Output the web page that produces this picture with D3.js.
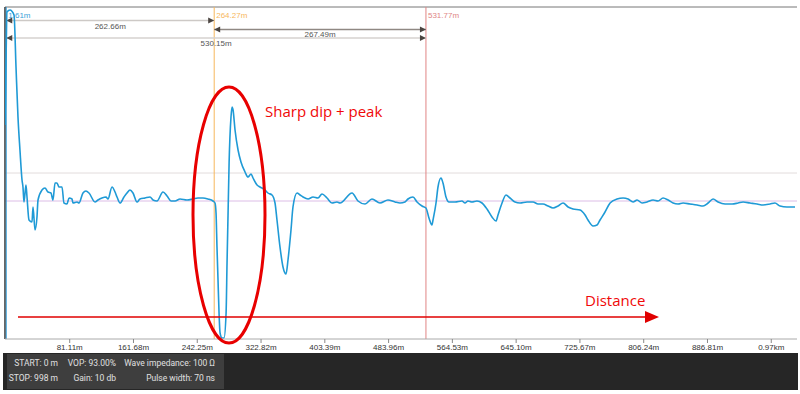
<!DOCTYPE html>
<html>
<head>
<meta charset="utf-8">
<script src="https://cdn.jsdelivr.net/npm/d3@7"></script>
<style>
  body { margin: 0; background: #fff; }
  svg { display: block; font-family: "Liberation Sans", Arial, sans-serif; }
</style>
</head>
<body>
<div id="chart"></div>
<script>
// TDR trace: distance (m) and reflected amplitude (arbitrary units, 0 = baseline)
var distances = [0, 1.3, 2.5, 6.3, 11.4, 13.9, 16.4, 18.9, 21.5, 22.7, 24.0, 26.5, 27.8, 30.3, 34.1, 35.4, 37.9, 40.4, 41.7,
  46.7, 50.5, 54.3, 58.1, 60.6, 63.2, 65.7, 68.2, 72.0, 74.5, 78.3, 80.9, 84.6, 85.9, 91.0, 93.5, 98.5, 102.3, 106.1,
  113.7, 117.5, 122.5, 127.6, 130.1, 135.2, 139.0, 141.5, 145.3, 150.3, 154.1, 157.9, 161.7, 166.8, 170.5, 176.9,
  183.2, 187.0, 192.0, 199.6, 204.7, 209.7, 214.8, 221.1, 229.9, 237.5, 243.8, 250.1, 256.4, 262.8, 265.3, 266.6,
  267.8, 269.1, 270.4, 271.7, 274.2, 276.7, 279.3, 280.5, 281.8, 283.1, 285.5, 286.8, 288.1, 290.6, 294.4, 298.1,
  303.2, 307.0, 310.8, 313.3, 318.4, 322.1, 328.5, 332.2, 337.3, 341.1, 343.6, 347.4, 351.2, 355.0, 357.5, 361.3,
  363.8, 368.9, 372.7, 376.5, 382.8, 389.1, 395.4, 400.5, 406.8, 413.1, 419.4, 423.2, 438.4, 445.9, 454.8, 463.6,
  473.7, 483.8, 492.7, 499.0, 505.3, 509.1, 515.4, 520.5, 526.8, 531.8, 535.6, 539.4, 540.7, 544.5, 547.0, 550.8,
  553.3, 557.1, 560.9, 568.5, 577.3, 581.1, 584.9, 589.9, 596.2, 602.6, 608.9, 615.2, 620.3, 622.8, 627.9, 632.9,
  638.0, 644.3, 650.6, 659.5, 667.1, 673.4, 679.7, 686.0, 692.3, 698.7, 705.0, 711.3, 717.6, 726.5, 732.8, 736.5,
  742.9, 747.9, 751.7, 758.0, 764.4, 773.2, 780.8, 787.1, 793.4, 798.5, 804.8, 811.1, 818.7, 825.0, 831.3, 837.7,
  844.0, 850.3, 856.6, 865.5, 874.3, 881.9, 888.2, 894.5, 900.8, 909.7, 918.5, 926.1, 932.4, 941.2, 950.1, 957.6,
  966.4, 972.7, 979.1, 987.9, 998.0];
var amplitudes = [76, 141, 189, 191, 186, 134, 84, 51, 21, 14, -1, 16, 4, -19, -21, -6, -29, -16, 1,
  11, 13, 9, 8, 1, 18, 18, 14, 14, -2, -3, 3, 2, -2, -1, -2, 8, 10, 8,
  -1, 1, 3, 4, 2, 14, 9, 4, -2, 4, 8, 11, 8, -1, 2, 3,
  4, 1, 0, 9, 5, 0, 0, 2, 1, 2, 3, 3, 2, 0, -2, -12,
  -46, -79, -112, -132, -137, -137, -112, -62, -12, 38, 84, 94, 91, 71, 51, 39,
  29, 24, 27, 23, 16, 14, 11, 8, 6, -2, -19, -46, -66, -73, -59, -29,
  -6, 8, 6, 4, 2, 4, 3, 7, 3, -2, -1, -2, 8, 0, -3, 2,
  -2, 1, -1, -2, -1, 2, 4, -1, -5, -7, -17, -24, -19, -2, 14, 23,
  18, 4, -1, -1, 0, -2, 0, -1, 0, -2, -8, -16, -20, -14, -2, 6,
  3, -1, -2, -1, -1, -3, -3, -5, -7, -5, -2, -6, -8, -9, -14, -19,
  -25, -24, -19, -11, -2, 2, 3, 2, -1, 1, -2, -1, 1, 0, 3, 1,
  -2, -3, -2, -3, -4, -5, -2, 2, -1, -3, -3, -2, -1, -2, -3, -4,
  -3, -2, -5, -6, -6];

var tickValues = [81.11, 161.68, 242.25, 322.82, 403.39, 483.96, 564.53, 645.10, 725.67, 806.24, 886.81, 967.38];
var tickLabels = ["81.11m", "161.68m", "242.25m", "322.82m", "403.39m", "483.96m", "564.53m", "645.10m",
  "725.67m", "806.24m", "886.81m", "0.97km"];

var cursorPos = [1.61, 264.27, 531.77];
var cursorLabels = ["1.61m", "264.27m", "531.77m"];
var cursorColors = ["#3a9fd8", "#f7b75c", "#e08585"];

// measurement spans: from, to, label
var spanFrom = [1.61, 264.27, 1.61];
var spanTo = [264.27, 531.77, 531.77];
var spanLabels = ["262.66m", "267.49m", "530.15m"];

var infoRow1 = ["START: 0 m", "VOP: 93.00%", "Wave impedance: 100 Ω"];
var infoRow2 = ["STOP: 998 m", "Gain: 10 db", "Pulse width: 70 ns"];

var width = 800, height = 394;
// note: "top" is taken by window.top, so use plot* names
var plotLeft = 5, plotRight = 795, plotTop = 7, plotBottom = 339;

var svg = d3.select("#chart").append("svg")
  .attr("width", width)
  .attr("height", height);

var x = d3.scaleLinear().domain([0, 998]).range([plotLeft, plotRight]);
var y = d3.scaleLinear().domain([-138, 194]).range([plotBottom, plotTop]);

svg.append("defs").append("clipPath").attr("id", "plot")
  .append("rect").attr("x", plotLeft).attr("y", plotTop)
  .attr("width", 797 - plotLeft).attr("height", plotBottom - plotTop);

// reference lines
svg.append("line")
  .attr("x1", plotLeft).attr("x2", 797).attr("y1", y(28)).attr("y2", y(28))
  .attr("stroke", "#e2dcdc").attr("stroke-width", 1);
svg.append("line")
  .attr("x1", plotLeft).attr("x2", 797).attr("y1", y(0)).attr("y2", y(0))
  .attr("stroke", "#dcbde6").attr("stroke-width", 1);

// frame
svg.append("line").attr("x1", plotLeft).attr("x2", 797).attr("y1", plotTop).attr("y2", plotTop)
  .attr("stroke", "#777").attr("stroke-width", 1);
svg.append("line").attr("x1", plotLeft).attr("x2", plotLeft).attr("y1", plotTop).attr("y2", plotBottom)
  .attr("stroke", "#333").attr("stroke-width", 1.5);

// cursors
svg.selectAll("line.cursor")
  .data(cursorPos)
  .enter().append("line")
    .attr("class", "cursor")
    .attr("x1", function(d) { return x(d); })
    .attr("x2", function(d) { return x(d); })
    .attr("y1", plotTop).attr("y2", plotBottom)
    .attr("stroke", function(d, i) { return cursorColors[i]; })
    .attr("stroke-width", 1);

svg.selectAll("text.cursor")
  .data(cursorPos)
  .enter().append("text")
    .attr("class", "cursor")
    .attr("x", function(d) { return x(d) + 2; })
    .attr("y", 18)
    .attr("font-size", 8)
    .attr("fill", function(d, i) { return cursorColors[i]; })
    .text(function(d, i) { return cursorLabels[i]; });

// measurement arrows
var spanY = [20.5, 29.5, 38];
var spanStroke = ["#cdc9c6", "#8f8883", "#d6d2cf"];
var spanTextY = [28.5, 37, 46];
var spans = svg.selectAll("g.span")
  .data(spanLabels)
  .enter().append("g").attr("class", "span");

spans.append("line")
  .attr("x1", function(d, i) { return x(spanFrom[i]); })
  .attr("x2", function(d, i) { return x(spanTo[i]); })
  .attr("y1", function(d, i) { return spanY[i]; })
  .attr("y2", function(d, i) { return spanY[i]; })
  .attr("stroke", function(d, i) { return spanStroke[i]; })
  .attr("stroke-width", 1.5);

spans.append("path")
  .attr("d", function(d, i) {
    var a = x(spanFrom[i]), yy = spanY[i];
    return "M" + a + "," + yy + "l6,-3l0,6z";
  })
  .attr("fill", "#4a4440");
spans.append("path")
  .attr("d", function(d, i) {
    var b = x(spanTo[i]), yy = spanY[i];
    return "M" + b + "," + yy + "l-6,-3l0,6z";
  })
  .attr("fill", "#4a4440");

spans.append("text")
  .attr("x", function(d, i) { return (x(spanFrom[i]) + x(spanTo[i])) / 2; })
  .attr("y", function(d, i) { return spanTextY[i]; })
  .attr("text-anchor", "middle")
  .attr("font-size", 8)
  .attr("fill", "#555")
  .text(function(d) { return d; });

// waveform
var line = d3.line()
  .x(function(d, i) { return x(distances[i]); })
  .y(function(d) { return y(d); })
  .curve(d3.curveMonotoneX);

svg.append("path")
  .datum(amplitudes)
  .attr("clip-path", "url(#plot)")
  .attr("fill", "none")
  .attr("stroke", "#1f9ad6")
  .attr("stroke-width", 1.6)
  .attr("stroke-linejoin", "round")
  .attr("d", line);

// x axis
var xAxis = d3.axisBottom(x)
  .tickValues(tickValues)
  .tickFormat(function(d, i) { return tickLabels[i]; })
  .tickSize(4)
  .tickSizeOuter(0);

var gx = svg.append("g")
  .attr("transform", "translate(0," + plotBottom + ")")
  .call(xAxis);
gx.select(".domain").attr("stroke", "#aaa").attr("d", "M" + plotLeft + ",0H797");
gx.selectAll(".tick line").attr("stroke", "#888");
gx.selectAll(".tick text").attr("fill", "#333").attr("font-size", 8)
  .attr("font-family", "\"Liberation Sans\", Arial, sans-serif").attr("dy", "0.5em");

// bottom status panel
svg.append("rect").attr("x", 3).attr("y", 353).attr("width", 795).attr("height", 37).attr("fill", "#262626");
svg.append("rect").attr("x", 7).attr("y", 354).attr("width", 217).attr("height", 35).attr("fill", "#3e3e3e");

var colRight = [58, 116, 215];
svg.selectAll("text.info1")
  .data(infoRow1)
  .enter().append("text")
    .attr("x", function(d, i) { return colRight[i]; })
    .attr("y", 366)
    .attr("text-anchor", "end")
    .attr("font-size", 8.5)
    .attr("font-family", "Roboto, sans-serif")
    .attr("fill", "#e0e0e0")
    .text(function(d) { return d; });
svg.selectAll("text.info2")
  .data(infoRow2)
  .enter().append("text")
    .attr("x", function(d, i) { return colRight[i]; })
    .attr("y", 381)
    .attr("text-anchor", "end")
    .attr("font-size", 8.5)
    .attr("font-family", "Roboto, sans-serif")
    .attr("fill", "#e0e0e0")
    .text(function(d) { return d; });

// annotations
svg.append("ellipse")
  .attr("cx", 229).attr("cy", 215).attr("rx", 36).attr("ry", 128)
  .attr("fill", "none").attr("stroke", "#e80000").attr("stroke-width", 3);

svg.append("text")
  .attr("x", 265).attr("y", 117)
  .attr("font-size", 15)
  .attr("font-family", "\"Open Sans\", sans-serif")
  .attr("fill", "#f00808")
  .text("Sharp dip + peak");

svg.append("line")
  .attr("x1", 18).attr("x2", 648).attr("y1", 317).attr("y2", 317)
  .attr("stroke", "#e00000").attr("stroke-width", 1.5);
svg.append("path")
  .attr("d", "M659,317L645,311L645,323Z")
  .attr("fill", "#e00000");

svg.append("text")
  .attr("x", 585).attr("y", 306)
  .attr("font-size", 15)
  .attr("font-family", "\"Open Sans\", sans-serif")
  .attr("fill", "#f00808")
  .text("Distance");
</script>
</body>
</html>
